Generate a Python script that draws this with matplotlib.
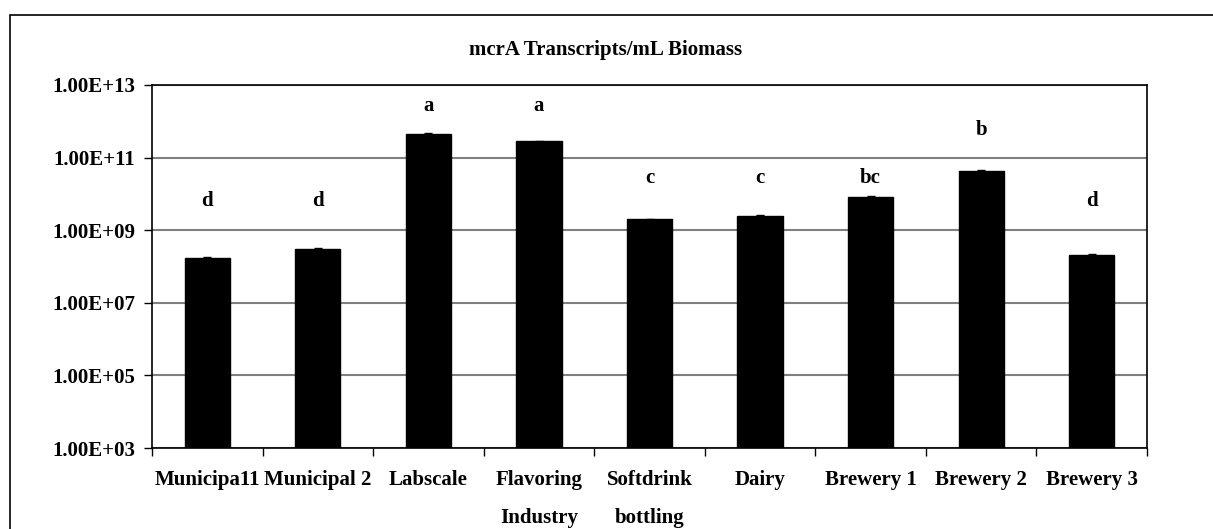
import numpy as np
import matplotlib
matplotlib.use("Agg")
import matplotlib.pyplot as plt
from matplotlib.patches import Rectangle

plt.rcParams['font.family'] = ['Liberation Serif', 'DejaVu Serif']
plt.rcParams['font.weight'] = 'bold'

categories = ["Municipa11", "Municipal 2", "Labscale", "Flavoring\nIndustry",
              "Softdrink\nbottling", "Dairy", "Brewery 1", "Brewery 2", "Brewery 3"]
values = [1.7e8, 3.1e8, 4.4e11, 2.8e11, 2.0e9, 2.5e9, 8.2e9, 4.4e10, 2.1e8]
errors = [0.1e8, 0.2e8, 0.3e11, 0.1e11, 0.08e9, 0.1e9, 0.4e9, 0.1e10, 0.15e8]
letters = ["d", "d", "a", "a", "c", "c", "bc", "b", "d"]
letter_y = [6.2e9, 6.2e9, 2.7e12, 2.7e12, 2.8e10, 2.8e10, 2.8e10, 5.9e11, 6.2e9]
yticks = [1e3, 1e5, 1e7, 1e9, 1e11, 1e13]
ytick_labels = ["1.00E+03", "1.00E+05", "1.00E+07", "1.00E+09", "1.00E+11", "1.00E+13"]

fig = plt.figure(figsize=(12.13, 5.29), dpi=100)
ax = fig.add_axes([152 / 1213, 1 - 448 / 529, (1147 - 152) / 1213, (448 - 85) / 529])

x = np.arange(len(categories))
ax.bar(x, values, width=0.41, color='black', edgecolor='black', zorder=3,
       yerr=errors, error_kw=dict(ecolor='black', capsize=3, elinewidth=1, capthick=1))

for xi, lab, ly in zip(x, letters, letter_y):
    ax.text(xi, ly, lab, ha='center', va='center', fontsize=15, fontweight='bold')

ax.set_yscale('log')
ax.set_ylim(1e3, 1e13)
ax.set_xlim(-0.5, len(categories) - 0.5)
ax.set_yticks(yticks)
ax.set_yticklabels(ytick_labels, fontsize=15, fontweight='bold')
ax.yaxis.set_minor_locator(matplotlib.ticker.NullLocator())
ax.grid(axis='y', color='#808080', linewidth=1.5, zorder=0)
ax.tick_params(axis='y', direction='out', length=6, width=1, pad=6)

ax.set_xticks(np.arange(len(categories) + 1) - 0.5)
ax.set_xticklabels([])
ax.set_xticks(x, minor=True)
ax.set_xticklabels(categories, minor=True, fontsize=15, fontweight='bold', linespacing=2.2, va='top')
ax.tick_params(axis='x', which='major', direction='out', length=6, width=1)
ax.tick_params(axis='x', which='minor', length=0, pad=16)

for s in ax.spines.values():
    s.set_linewidth(1.2)
    s.set_color('black')

fig.text(606 / 1213, 1 - 50 / 529, "mcrA Transcripts/mL Biomass", ha='center', va='center',
         fontsize=15, fontweight='bold')

fig.add_artist(Rectangle((10 / 1213, -0.1), 2.0, 1 - 15 / 529 + 0.1, transform=fig.transFigure,
                         fill=False, edgecolor='black', linewidth=1.2))

fig.savefig("out.png", dpi=100)
